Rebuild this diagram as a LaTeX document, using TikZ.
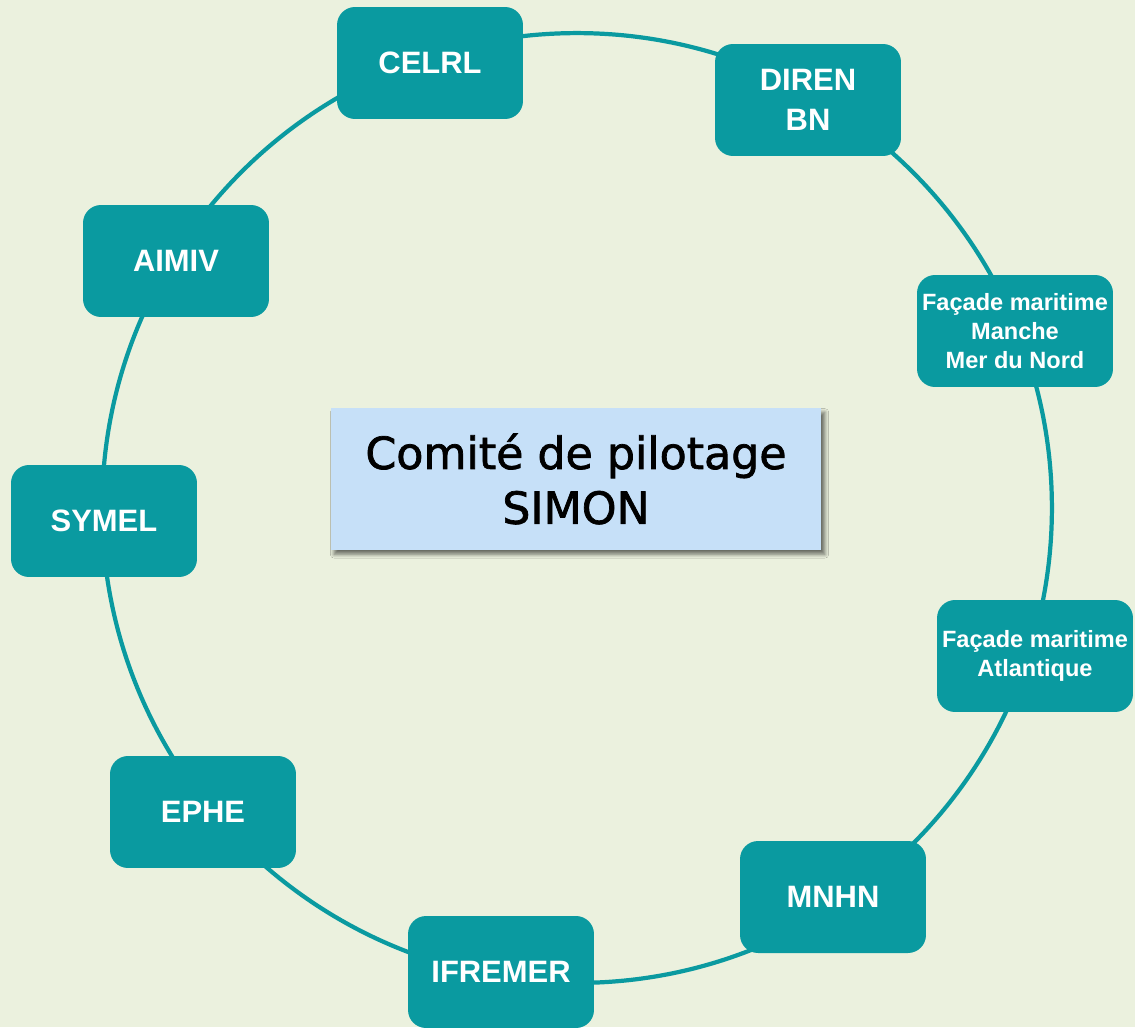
\documentclass[tikz,border=0pt]{standalone}
\usepackage{fontspec}
\setmainfont{Liberation Sans}
\newfontfamily\boardfont[FakeBold=1.6]{DejaVu Sans}
\usetikzlibrary{shadows.blur}
\definecolor{bgcol}{RGB}{235,241,222}
\definecolor{ringteal}{RGB}{10,154,160}
\definecolor{paleblue}{RGB}{198,224,248}
\begin{document}
\begin{tikzpicture}[x=0.02cm, y=-0.02cm,
	member/.style={fill=ringteal, rounded corners=0.36cm, minimum width=3.72cm,
		minimum height=2.24cm, inner sep=0pt, align=center, text=white,
		font=\fontsize{17.6}{22.7}\selectfont\bfseries},
	coast/.style={member, minimum width=3.92cm,
		font=\fontsize{13.4}{16.7}\selectfont\bfseries},
	board/.style={fill=paleblue, minimum width=9.82cm, minimum height=2.84cm,
		inner sep=0pt, align=center,
		blur shadow={shadow xshift=2pt, shadow yshift=-2.5pt, shadow blur steps=8, shadow opacity=55},
		font=\boardfont\fontsize{25.2}{31.2}\selectfont}]
	%background
	\fill[bgcol] (0,0) rectangle (1135,1027);
	\useasboundingbox (0,0) rectangle (1135,1027);
	%ring
	\coordinate (hub) at (577,508);
	\draw[ringteal, line width=2.4pt] (hub) circle[radius=9.5cm];
	%members
	\foreach \id/\xc/\yc/\txt in {celrl/430/63/CELRL, aimiv/176/261/AIMIV,
		symel/104/521/SYMEL, ephe/203/812/EPHE, ifremer/501/972/IFREMER,
		mnhn/833/897/MNHN}
	\node[member] (\id) at (\xc,\yc) {\txt};
	\node[member] (diren) at (808,100) {DIREN\\BN};
	\node[coast] (manche) at (1015,331) {Façade maritime\\Manche\\Mer du Nord};
	\node[coast] (atlantique) at (1035,656) {Façade maritime\\Atlantique};
	%committee
	\node[board] (copil) at (576,479) {Comité de pilotage\\SIMON};
\end{tikzpicture}
\end{document}
